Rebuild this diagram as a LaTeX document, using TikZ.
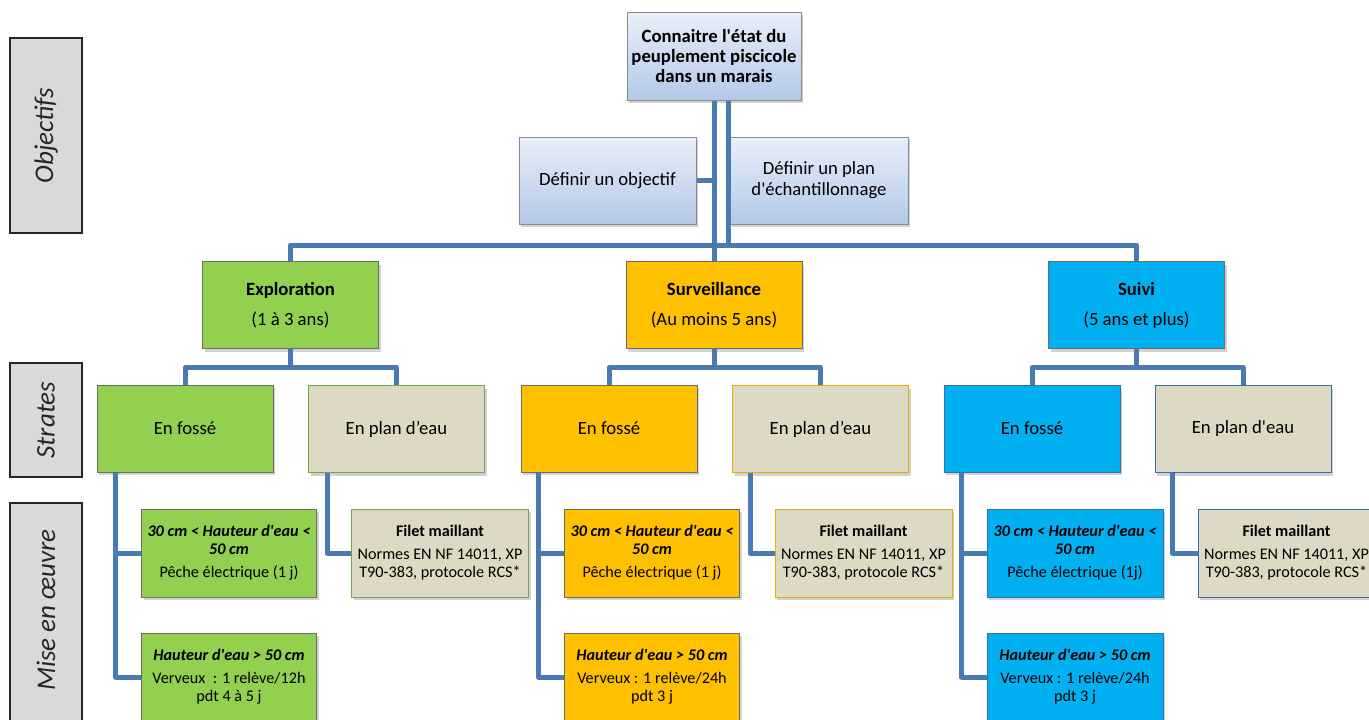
\documentclass[tikz,border=0pt]{standalone}
\usepackage{fontspec}
\setmainfont{Carlito}[Ligatures=TeXOff]
\usetikzlibrary{shadows}
\definecolor{conncol}{HTML}{4A7AB4}
\definecolor{grn}{HTML}{92D050}
\definecolor{org}{HTML}{FFC000}
\definecolor{blu}{HTML}{00B0F0}
\definecolor{beig}{HTML}{DDD9C4}
\definecolor{lgray}{HTML}{D9D9D9}
\definecolor{boxline}{HTML}{6B6B6B}
\definecolor{bluline}{HTML}{3A6EA5}
\definecolor{ltop}{HTML}{E8EFF9}
\definecolor{lbot}{HTML}{B3C8E8}
\tikzset{
  conn/.style={draw=conncol,line width=5pt,line join=round},
  basebox/.style={rectangle,inner sep=2pt,align=center,text=black,
    drop shadow={shadow xshift=2pt,shadow yshift=-3pt,opacity=0.35},
    minimum width=176pt,minimum height=87pt,line width=1pt},
  topbox/.style={basebox,draw=boxline!80,top color=ltop,bottom color=lbot,
    font=\fontsize{18.7}{20}\selectfont\bfseries},
  objbox/.style={basebox,draw=boxline!80,top color=ltop,bottom color=lbot,
    font=\fontsize{18.7}{21}\selectfont},
  lvtwo/.style={basebox,draw=boxline,font=\fontsize{18.7}{21}\selectfont},
  lvthree/.style={basebox,font=\fontsize{18.7}{21}\selectfont},
  lvfour/.style={basebox,minimum height=88pt,font=\fontsize{16.2}{18}\selectfont},
  sidelab/.style={rectangle,draw=black!85,line width=1.5pt,fill=lgray,minimum width=72pt},
  sidetext/.style={rotate=90,font=\fontsize{27}{30}\selectfont\itshape,text=black!85}
}
\begin{document}
\begin{tikzpicture}[x=1pt,y=-1pt]
\useasboundingbox (0,0) rectangle (1369,720);
\fill[white] (0,0) rectangle (1369,720);

% side labels
\node[sidelab,minimum height=195pt] (labobj) at (46,135.5) {};
\node[sidetext] (tobj) at (labobj) {Objectifs};
\node[sidelab,minimum height=114pt] (labstr) at (46,420) {};
\node[sidetext] (tstr) at (labstr) {Strates};
\node[sidelab,minimum height=230pt] (labmis) at (46,618) {};
\node[sidetext] (tmis) at (46,610) {Mise en œuvre};

% level 0 and 1
\node[topbox,minimum width=174pt,minimum height=88pt] (top) at (714,56) {Connaitre l'état du\\peuplement piscicole\\dans un marais};
\node[objbox,minimum width=177pt] (obj) at (607.5,180.5) {Définir un objectif};
\node[objbox,minimum width=178pt] (plan) at (819,180.5) {Définir un plan\\d'échantillonnage};

% level 2
\node[lvtwo,fill=grn] (expl) at (290.5,305) {\textbf{Exploration}\\[9pt](1 à 3 ans)};
\node[lvtwo,fill=org] (surv) at (714,305) {\textbf{Surveillance}\\[9pt](Au moins 5 ans)};
\node[lvtwo,fill=blu] (suiv) at (1136.5,305) {\textbf{Suivi}\\[9pt](5 ans et plus)};

% level 3
\node[lvthree,fill=grn,draw=boxline] (ef1) at (185,428.5) {En fossé};
\node[lvthree,fill=beig,draw=grn!80!black] (ep1) at (396.5,429) {En plan d’eau};
\node[lvthree,fill=org,draw=boxline] (ef2) at (609,428.5) {En fossé};
\node[lvthree,fill=beig,draw=org!90!black] (ep2) at (820.5,429) {En plan d’eau};
\node[lvthree,fill=blu,draw=bluline] (ef3) at (1032,428.5) {En fossé};
\node[lvthree,fill=beig,draw=bluline] (ep3) at (1243,429) {En plan d'eau};

% level 4
\node[lvfour,fill=grn,draw=boxline,minimum width=175pt] (h1a) at (229,553) {\textbf{\textit{30 cm < Hauteur d'eau <}}\\\textbf{\textit{50 cm}}\\[5pt]Pêche électrique (1 j)};
\node[lvfour,fill=grn,draw=boxline,minimum width=175pt] (h1b) at (229,677) {\textbf{\textit{Hauteur d'eau > 50 cm}}\\[5pt]Verveux\ \ : 1 relève/12h\\pdt 4 à 5 j};
\node[lvfour,fill=beig,draw=grn!80!black,minimum width=177pt] (f1) at (440,553) {\textbf{Filet maillant}\\[5pt]Normes EN NF 14011, XP\\T90-383, protocole RCS*};
\node[lvfour,fill=org,draw=boxline,minimum width=175pt] (h2a) at (652,553) {\textbf{\textit{30 cm < Hauteur d'eau <}}\\\textbf{\textit{50 cm}}\\[5pt]Pêche électrique (1 j)};
\node[lvfour,fill=org,draw=boxline,minimum width=175pt] (h2b) at (652,677) {\textbf{\textit{Hauteur d'eau > 50 cm}}\\[5pt]Verveux : 1 relève/24h\\pdt 3 j};
\node[lvfour,fill=beig,draw=org!90!black,minimum width=177pt] (f2) at (863.5,553) {\textbf{Filet maillant}\\[5pt]Normes EN NF 14011, XP\\T90-383, protocole RCS*};
\node[lvfour,fill=blu,draw=bluline,minimum width=176pt] (h3a) at (1075,553) {\textbf{\textit{30 cm < Hauteur d'eau <}}\\\textbf{\textit{50 cm}}\\[5pt]Pêche électrique (1j)};
\node[lvfour,fill=blu,draw=bluline,minimum width=176pt] (h3b) at (1075,677) {\textbf{\textit{Hauteur d'eau > 50 cm}}\\[5pt]Verveux : 1 relève/24h\\pdt 3 j};
\node[lvfour,fill=beig,draw=bluline,minimum width=177pt] (f3) at (1286.5,553) {\textbf{Filet maillant}\\[5pt]Normes EN NF 14011, XP\\T90-383, protocole RCS*};

% connectors
\coordinate (bus) at (714,245);
\draw[conn] (top.south) -- (surv.north);
\draw[conn] ([xshift=-1pt]plan.west |- top.south) -- ([xshift=-1pt]plan.west |- bus);
\draw[conn] (obj.east) -- (obj.east -| top.south);
\draw[conn] (expl.north) -- (expl.north |- bus) -- (suiv.north |- bus) -- (suiv.north);

\draw[conn] (expl.south) -- ++(0,20);
\draw[conn] (ef1.north) -- ++(0,-17) -| (ep1.north);
\draw[conn] (surv.south) -- ++(0,20);
\draw[conn] (ef2.north) -- ++(0,-17) -| (ep2.north);
\draw[conn] (suiv.south) -- ++(0,20);
\draw[conn] (ef3.north) -- ++(0,-17) -| (ep3.north);

\draw[conn] ([xshift=19pt]ef1.south west) |- (h1a.west);
\draw[conn] ([xshift=19pt]ef1.south west) |- (h1b.west);
\draw[conn] ([xshift=19pt]ep1.south west) |- (f1.west);
\draw[conn] ([xshift=18pt]ef2.south west) |- (h2a.west);
\draw[conn] ([xshift=18pt]ef2.south west) |- (h2b.west);
\draw[conn] ([xshift=18pt]ep2.south west) |- (f2.west);
\draw[conn] ([xshift=18pt]ef3.south west) |- (h3a.west);
\draw[conn] ([xshift=18pt]ef3.south west) |- (h3b.west);
\draw[conn] ([xshift=18pt]ep3.south west) |- (f3.west);
\end{tikzpicture}
\end{document}
